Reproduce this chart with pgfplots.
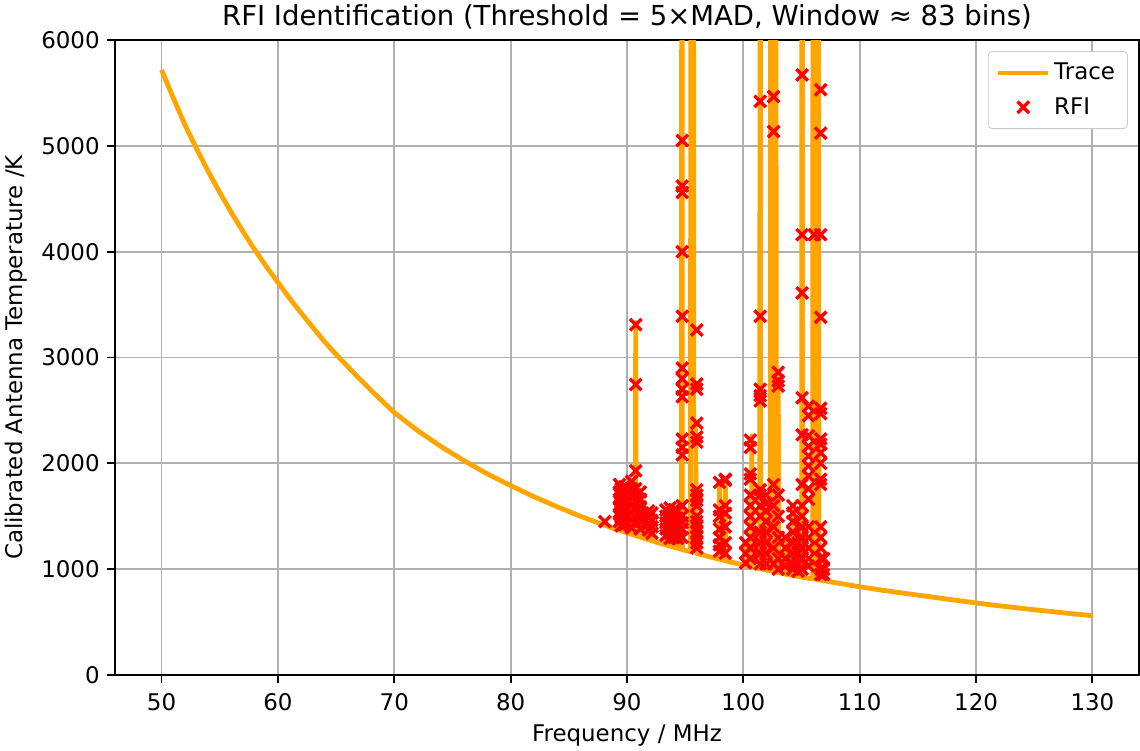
\documentclass[border=0pt]{standalone}
\usepackage{fontspec}
\setmainfont{DejaVu Sans}
\usepackage{pgfplots}
\pgfplotsset{compat=1.18}
\usetikzlibrary{calc}
\definecolor{mplorange}{HTML}{FFA500}
\definecolor{mplgrid}{HTML}{B0B0B0}
\pgfplotsset{
  rfileg/.style={legend image code/.code={\draw[##1] plot coordinates {(12pt,0pt)};}},
  traceleg/.style={legend image code/.code={\draw[##1, line width=1.7pt] (0pt,0pt) -- (24pt,0pt);}},
}
\begin{document}
\begin{tikzpicture}
\begin{axis}[
  name=ax,
  scale only axis,
  width=491.5pt, height=304.8pt,
  xmin=46, xmax=134, ymin=0, ymax=6000,
  xtick={50,60,...,130}, ytick={0,1000,...,6000},
  scaled ticks=false,
  /pgf/number format/1000 sep={},
  /pgf/number format/assume math mode=true,
  tick label style={font=\fontsize{11}{13}\selectfont, black},
  xticklabel style={yshift=-1.5pt},
  grid=major,
  major grid style={mplgrid, line width=0.9pt},
  axis line style={line width=0.9pt},
  tick style={black, line width=0.9pt},
  tick align=outside, major tick length=3.85pt,
  tick pos=left,
  title={RFI Identification (Threshold = 5×MAD, Window ≈ 83 bins)},
  title style={font=\fontsize{13.2}{15}\selectfont, at={(0.5,1)}, anchor=base, yshift=1pt},
  xlabel={Frequency / MHz},
  ylabel={Calibrated Antenna Temperature /K},
  label style={font=\fontsize{11}{13}\selectfont},
  xlabel style={at={(0.5,0)}, anchor=base, yshift=-31.7pt},
  reverse legend,
  legend cell align=left,
  legend style={at={(1,1)}, anchor=north east, xshift=-5.3pt, yshift=-5.3pt,
    draw=black!20, rounded corners=2pt, fill=white,
    font=\fontsize{11}{13}\selectfont, row sep=3pt, inner xsep=4pt, inner ysep=3.5pt},
]
\addplot[only marks, mark=x, red, mark size=3.9pt, line width=1.6pt, rfileg]
table {
f T
88.1 1450
89.35 1800
89.35 1730
89.35 1660
89.35 1590
89.35 1520
89.35 1450
89.5 1760
89.5 1690
89.5 1620
89.5 1550
89.5 1480
89.5 1410
89.8 1780
89.8 1700
89.8 1640
89.8 1560
89.8 1490
89.8 1420
90.4 1830
90.4 1760
90.4 1680
90.4 1600
90.4 1530
90.4 1460
90.4 1390
90.75 3310
90.75 2745
90.75 1930
90.75 1760
90.75 1700
90.75 1640
90.75 1580
90.75 1500
90.75 1440
91.15 1730
91.15 1660
91.15 1590
91.15 1520
91.15 1450
91.15 1380
91.85 1550
91.85 1490
91.85 1430
91.85 1370
92.15 1530
92.15 1460
92.15 1400
92.15 1340
93.35 1560
93.35 1500
93.35 1440
93.35 1380
93.35 1320
93.7 1580
93.7 1520
93.7 1460
93.7 1400
93.7 1340
93.7 1290
94.05 1560
94.05 1500
94.05 1430
94.05 1370
94.05 1300
94.35 1550
94.35 1480
94.35 1420
94.35 1350
94.35 1290
94.75 5050
94.75 4620
94.75 4560
94.75 4000
94.75 3390
94.75 2900
94.75 2800
94.75 2700
94.75 2630
94.75 2230
94.75 2150
94.75 2080
94.75 1600
94.75 1500
94.75 1440
94.75 1380
94.75 1300
96.0 3260
96.0 2750
96.0 2700
96.0 2380
96.0 2250
96.0 2200
96.0 1750
96.0 1700
96.0 1650
96.0 1600
96.0 1500
96.0 1450
96.0 1400
96.0 1350
96.0 1300
96.0 1250
96.0 1200
97.95 1820
97.95 1560
97.95 1500
97.95 1380
97.95 1300
97.95 1230
97.95 1170
98.45 1850
98.45 1840
98.45 1600
98.45 1530
98.45 1400
98.45 1250
98.45 1150
100.2 1250
100.2 1150
100.2 1060
100.6 2220
100.6 2150
100.6 1900
100.6 1850
100.6 1700
100.6 1600
100.6 1500
100.6 1400
100.6 1300
100.6 1200
100.6 1100
101.45 5420
101.45 3390
101.45 2700
101.45 2640
101.45 2590
101.45 1750
101.45 1700
101.45 1600
101.45 1500
101.45 1350
101.45 1250
101.45 1150
101.45 1050
101.95 1700
101.95 1620
101.95 1550
101.95 1450
101.95 1350
101.95 1250
101.95 1150
101.95 1050
102.6 5465
102.6 5135
102.6 1800
102.6 1600
102.6 1400
102.6 1200
102.6 1050
103.0 2860
103.0 2780
103.0 2730
103.0 1700
103.0 1500
103.0 1300
103.0 1100
103.0 1000
103.6 1300
103.6 1200
103.6 1100
103.6 1030
104.25 1600
104.25 1530
104.25 1450
104.25 1350
104.25 1250
104.25 1150
104.25 1050
104.25 1000
104.7 1250
104.7 1150
104.7 1050
104.7 980
105.05 5670
105.05 4160
105.05 3610
105.05 2620
105.05 2270
105.05 1800
105.05 1600
105.05 1500
105.05 1400
105.05 1300
105.05 1200
105.05 1100
105.05 1000
105.6 2540
105.6 2450
105.6 2260
105.6 2160
105.6 2070
105.6 1975
105.6 1880
105.6 1760
105.6 1660
105.6 1400
105.6 1300
105.6 1200
105.6 1100
105.6 1030
106.1 4160
106.65 5530
106.65 5120
106.65 4160
106.65 3380
106.65 2520
106.65 2470
106.65 2230
106.65 2180
106.65 2100
106.65 2000
106.65 1850
106.65 1800
106.65 1400
106.65 1300
106.65 1200
106.65 1100
106.65 1000
106.65 950
106.9 1100
106.9 1000
106.9 950
};
\addlegendentry{RFI}
\addplot[mplorange, line width=2.3pt, line join=round, traceleg]
table {
f T
50 5717
51 5455
52 5200
53 4975
54 4760
55 4560
56 4370
57 4190
58 4020
59 3860
60 3710
61 3560
62 3420
63 3285
64 3150
65 3030
66 2915
67 2800
68 2690
69 2585
70 2480
72 2310
74 2160
76 2025
78 1900
80 1790
82 1685
84 1590
86 1500
88 1418
88.06 1416
88.1 1450
88.14 1413
89.31 1369
89.35 1800
89.39 1367
89.76 1352
89.8 1780
89.84 1350
90.36 1330
90.4 1830
90.44 1328
90.71 1318
90.75 3330
90.79 1316
91.11 1304
91.15 1700
91.19 1302
91.81 1279
91.85 1560
91.89 1277
92.11 1269
92.15 1500
92.19 1267
93.31 1230
93.35 1570
93.39 1228
93.66 1219
93.7 1590
93.74 1217
94.01 1208
94.05 1560
94.09 1205
94.31 1199
94.35 1540
94.39 1197
94.68 1187
94.72 12000
94.76 1185
95.46 1164
95.5 12000
95.6 12000
95.7 12000
95.74 2390
95.9 2390
95.95 1150
97.91 1094
97.95 1830
97.99 1093
98.41 1081
98.45 1850
98.49 1079
100.16 1036
100.2 1250
100.24 1034
100.69 1023
100.73 2260
100.77 1021
101.41 1005
101.45 12000
101.49 1003
101.91 993
101.95 1650
101.99 991
102.31 984
102.35 12000
102.45 981
102.55 12000
102.65 976
102.75 12000
102.85 971
102.96 969
103.0 2860
103.04 967
103.56 955
103.6 1300
103.64 953
104.26 940
104.3 1600
104.34 938
104.66 932
104.7 1250
104.74 931
105.01 926
105.05 12000
105.09 924
105.96 908
106.0 12000
106.12 905
106.2 12000
106.32 902
106.42 12000
106.5 898
106.86 892
106.9 1100
106.94 890
108 871
110 834
112 800
114 770
116 740
118 710
120 681
122 654
124 629
126 605
128 582
130 561
};
\addlegendentry{Trace}
\end{axis}
\pgfresetboundingbox
\path[use as bounding box] ($(ax.south west)+(-55.2pt,-36pt)$) rectangle ($(ax.north east)+(0.5pt,19.2pt)$);
\end{tikzpicture}
\end{document}
